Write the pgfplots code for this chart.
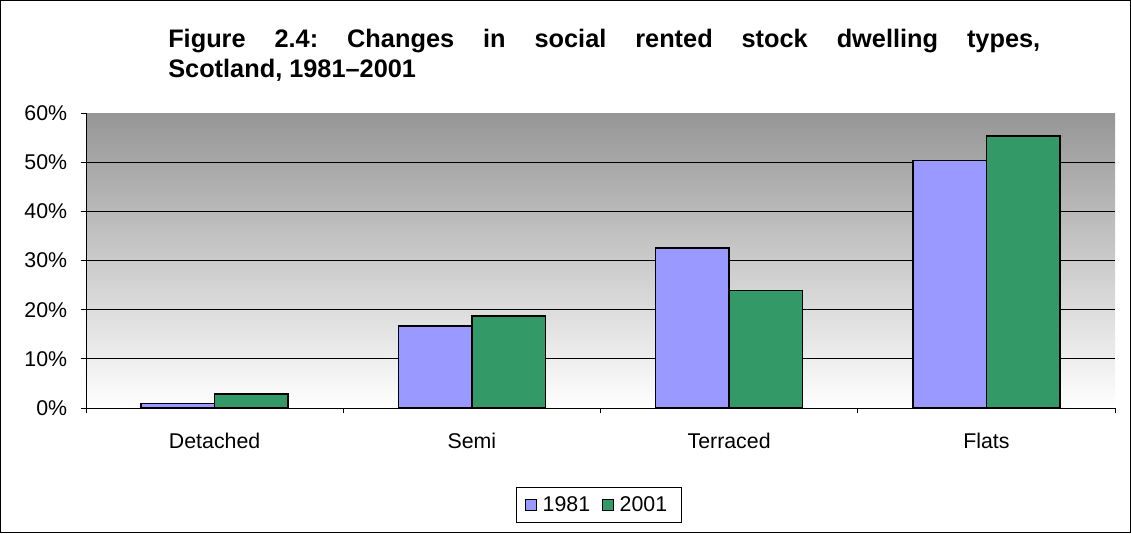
\documentclass[border=0pt]{standalone}
\usepackage{pgfplots}
\pgfplotsset{compat=1.18}
\usepackage{fontspec}
\setmainfont{Liberation Sans}
\definecolor{cA}{RGB}{153,153,255}
\definecolor{cB}{RGB}{51,153,102}
\definecolor{topgray}{RGB}{150,150,150}
\frenchspacing
\begin{document}
\begin{tikzpicture}[x=1pt,y=1pt]
\path[use as bounding box] (0,0) rectangle (848.25,399.75);
\draw[line width=0.75pt] (0.375,0.375) rectangle (847.875,399.375);
\node[anchor=base west, inner sep=0pt, font=\bfseries\fontsize{19}{24}\selectfont]
  at (126,363.75) {\makebox[654pt][s]{Figure 2.4: Changes in social rented stock dwelling types,}};
\node[anchor=base west, inner sep=0pt, font=\bfseries\fontsize{19}{24}\selectfont]
  at (126,341.25) {Scotland, 1981–2001};
\begin{axis}[
  at={(64.5pt,93.75pt)}, anchor=south west,
  scale only axis, width=771.75pt, height=221.25pt,
  ybar=0pt, bar width=55.1pt,
  xmin=-0.5, xmax=3.5, ymin=0, ymax=60,
  xtick={-0.5,0.5,1.5,2.5,3.5}, xticklabels={},
  extra x ticks={0,1,2,3},
  extra x tick labels={Detached,Semi,Terraced,Flats},
  extra x tick style={major tick length=0pt},
  ytick={0,10,...,50}, extra y ticks={60}, extra y tick style={grid=none},
  ymajorgrids, grid style={black, line width=0.75pt},
  axis x line*=bottom, axis y line*=left,
  axis line style={-, line width=0.75pt, black},
  tick align=outside, major tick length=4pt,
  tick style={line width=0.75pt, black},
  /pgf/number format/assume math mode=true,
  yticklabel={\pgfmathprintnumber{\tick}\%},
  yticklabel style={anchor=east, inner sep=0pt, xshift=-9.9pt},
  xticklabel style={anchor=base, inner sep=0pt, yshift=-30.4pt},
  tick label style={font=\fontsize{16}{19}\selectfont},
  axis background/.style={top color=topgray, bottom color=white},
  every axis plot/.append style={draw=black, line width=1.1pt},
  area legend,
  legend image code/.code={\draw[#1, line width=0.75pt] (0pt,-4.2pt) rectangle (8.4pt,4.2pt);},
  legend style={at={(0.4984,-0.3288)}, anchor=center, legend columns=2,
    draw=black, line width=0.75pt, font=\fontsize{16}{19}\selectfont,
    inner xsep=6.5pt, inner ysep=5pt,
    nodes={inner xsep=4pt},
    /tikz/every even column/.append style={column sep=5pt}},
]
\addplot[fill=cA] coordinates {(0,0.9) (1,16.7) (2,32.5) (3,50.3)};
\addplot[fill=cB] coordinates {(0,2.85) (1,18.7) (2,23.9) (3,55.3)};
\legend{1981,2001}
\end{axis}
\end{tikzpicture}
\end{document}
